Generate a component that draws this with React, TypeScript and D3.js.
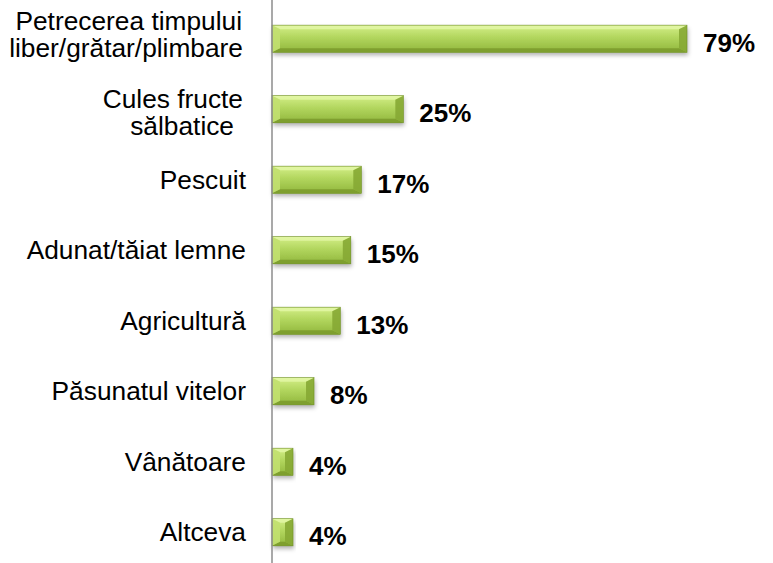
import React from "react";
import { scaleLinear, scaleBand } from "d3";

const categories = [
  "Petrecerea timpului\nliber/grătar/plimbare",
  "Cules fructe\nsălbatice",
  "Pescuit",
  "Adunat/tăiat lemne",
  "Agricultură",
  "Păsunatul vitelor",
  "Vânătoare",
  "Altceva",
];
const values = [79, 25, 17, 15, 13, 8, 4, 4];
const valueLabels = ["79%", "25%", "17%", "15%", "13%", "8%", "4%", "4%"];

const W = 773;
const H = 563;
const axisX = 272;

// small per-label tweaks for the wrapped category labels (line right edges, vertical shift)
const labelLayout: Record<number, { ends: number[]; shift: number }> = {
  0: { ends: [242, 243], shift: -4 },
  1: { ends: [243, 234], shift: 3 },
};

export default function App() {
  const x = scaleLinear().domain([0, 79]).range([axisX, 687]);
  const y = scaleBand<number>()
    .domain(values.map((v, i) => i))
    .range([4, 567])
    .paddingInner(0.615)
    .paddingOuter(0.3);

  const bh = y.bandwidth();

  return (
    <svg
      width={W}
      height={H}
      style={{ position: "absolute", left: 0, top: 0, background: "#fff" }}
      fontFamily="Liberation Sans, Arial, sans-serif"
    >
      <defs>
        <linearGradient id="barFill" x1="0" y1="0" x2="0" y2="1">
          <stop offset="0" stopColor="#d4ef88" />
          <stop offset="0.45" stopColor="#b2d65e" />
          <stop offset="1" stopColor="#90b63c" />
        </linearGradient>
        <filter id="shadow" x="-10%" y="-30%" width="120%" height="180%">
          <feDropShadow dx="1" dy="3" stdDeviation="2" floodColor="#000" floodOpacity="0.3" />
        </filter>
      </defs>

      {values.map((v, i) => {
        const x0 = x(0);
        const x1 = x(v);
        const y0 = y(i)!;
        const y1 = y0 + bh;
        const w = x1 - x0;
        const be = Math.min(8, w / 2);
        const bt = 4;
        const cy = y0 + bh / 2;
        return (
          <g key={i}>
            <rect x={x0} y={y0} width={w} height={bh} fill="url(#barFill)" filter="url(#shadow)" />
            {/* bevel: top */}
            <polygon
              points={`${x0},${y0} ${x1},${y0} ${x1 - be},${y0 + bt} ${x0 + be},${y0 + bt}`}
              fill="#e4f7a8"
              opacity={0.8}
            />
            {/* bevel: bottom */}
            <polygon
              points={`${x0},${y1} ${x1},${y1} ${x1 - be},${y1 - bt} ${x0 + be},${y1 - bt}`}
              fill="#7a9a2c"
              opacity={0.85}
            />
            {/* bevel: left */}
            <polygon
              points={`${x0},${y0} ${x0 + be},${y0 + bt} ${x0 + be},${y1 - bt} ${x0},${y1}`}
              fill="#c2e070"
              opacity={0.9}
            />
            {/* bevel: right */}
            <polygon
              points={`${x1},${y0} ${x1 - be},${y0 + bt} ${x1 - be},${y1 - bt} ${x1},${y1}`}
              fill="#86a834"
              opacity={0.9}
            />
            <rect x={x0} y={y0} width={w} height={bh} fill="none" stroke="#6f8f26" strokeWidth={0.6} />
            <text
              x={x1 + 16}
              y={cy + 4}
              dy="0.35em"
              fontSize={26}
              fontWeight="bold"
              fill="#000"
            >
              {valueLabels[i]}
            </text>
          </g>
        );
      })}

      {categories.map((c, i) => {
        const lines = c.split("\n");
        const cy = y(i)! + bh / 2;
        const lh = 27;
        const lay = labelLayout[i];
        const start = cy - ((lines.length - 1) * lh) / 2 + (lay ? lay.shift : 0);
        return (
          <text key={i} textAnchor="end" fontSize={26.3} fill="#000">
            {lines.map((l, j) => (
              <tspan key={j} x={lay ? lay.ends[j] : 246} y={start + j * lh} dy="0.35em">
                {l}
              </tspan>
            ))}
          </text>
        );
      })}

      <line x1={axisX} x2={axisX} y1={0} y2={H} stroke="#8c8c8c" strokeWidth={1.5} />
    </svg>
  );
}
